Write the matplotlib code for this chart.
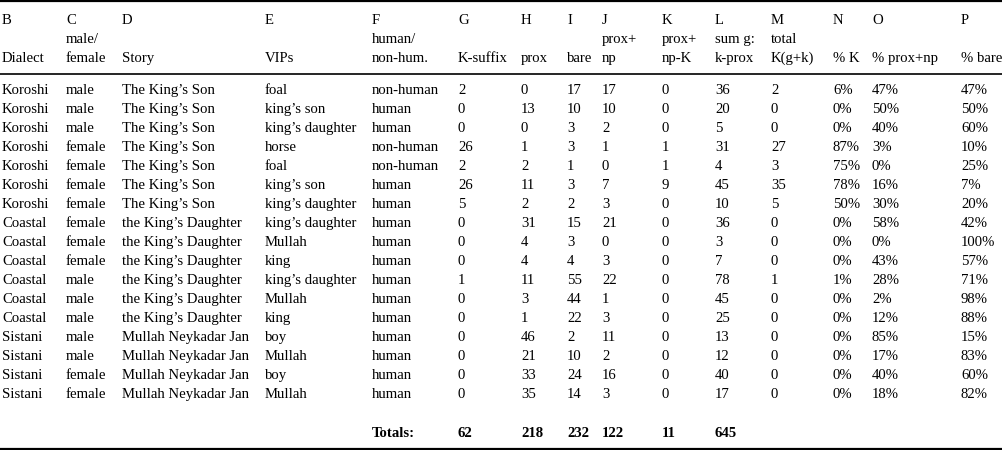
import matplotlib.pyplot as plt

# column data
dialect = ["Koroshi"] * 7 + ["Coastal"] * 6 + ["Sistani"] * 4
gender = ["male", "male", "male", "female", "female", "female", "female",
          "female", "female", "female", "male", "male", "male",
          "male", "male", "female", "female"]
story = ["The King’s Son"] * 7 + ["the King’s Daughter"] * 6 + ["Mullah Neykadar Jan"] * 4
vips = ["foal", "king’s son", "king’s daughter", "horse", "foal", "king’s son",
        "king’s daughter", "king’s daughter", "Mullah", "king", "king’s daughter",
        "Mullah", "king", "boy", "Mullah", "boy", "Mullah"]
human = ["non-human", "human", "human", "non-human", "non-human", "human", "human",
         "human", "human", "human", "human", "human", "human",
         "human", "human", "human", "human"]
k_suffix = [2, 0, 0, 26, 2, 26, 5, 0, 0, 0, 1, 0, 0, 0, 0, 0, 0]
prox = [0, 13, 0, 1, 2, 11, 2, 31, 4, 4, 11, 3, 1, 46, 21, 33, 35]
bare = [17, 10, 3, 3, 1, 3, 2, 15, 3, 4, 55, 44, 22, 2, 10, 24, 14]
prox_np = [17, 10, 2, 1, 0, 7, 3, 21, 0, 3, 22, 1, 3, 11, 2, 16, 3]
prox_np_k = [0, 0, 0, 1, 1, 9, 0, 0, 0, 0, 0, 0, 0, 0, 0, 0, 0]
sum_g = [36, 20, 5, 31, 4, 45, 10, 36, 3, 7, 78, 45, 25, 13, 12, 40, 17]
total_k = [2, 0, 0, 27, 3, 35, 5, 0, 0, 0, 1, 0, 0, 0, 0, 0, 0]
pct_k = ["6%", "0%", "0%", "87%", "75%", "78%", "50%", "0%", "0%", "0%", "1%",
         "0%", "0%", "0%", "0%", "0%", "0%"]
pct_prox_np = ["47%", "50%", "40%", "3%", "0%", "16%", "30%", "58%", "0%", "43%",
               "28%", "2%", "12%", "85%", "17%", "40%", "18%"]
pct_bare = ["47%", "50%", "60%", "10%", "25%", "7%", "20%", "42%", "100%", "57%",
            "71%", "98%", "88%", "15%", "83%", "60%", "82%"]

col_letters = list("BCDEFGHIJKLMNOP")
header_mid = ["", "male/", "", "", "human/", "", "", "", "prox+", "prox+",
              "sum g:", "total", "", "", ""]
header_bot = ["Dialect", "female", "Story", "VIPs", "non-hum.", "K-suffix", "prox",
              "bare", "np", "np-K", "k-prox", "K(g+k)", "% K", "% prox+np", "% bare"]
totals = [62, 218, 232, 122, 11, 645]

columns = [dialect, gender, story, vips, human, k_suffix, prox, bare, prox_np,
           prox_np_k, sum_g, total_k, pct_k, pct_prox_np, pct_bare]

# layout in pixels
col_x = [2, 66, 122, 265, 372, 458, 521, 567, 602, 662, 715, 771, 833, 872, 961]
W, H = 1002, 450
base = 4.2  # baseline offset below row centre (avoid half pixels)

plt.rcParams["font.family"] = ["Liberation Serif", "DejaVu Serif"]
fs = 10.6

fig = plt.figure(figsize=(W / 100, H / 100), dpi=100)
ax = fig.add_axes([0, 0, 1, 1])
ax.set_xlim(0, W)
ax.set_ylim(H, 0)
ax.axis("off")


def cell(x, y, s, **kw):
    ax.text(x, y + base, s, fontsize=fs, va="baseline", ha="left", **kw)


# rules
ax.axhline(1.2, color="black", lw=1.6)
ax.axhline(74, color="black", lw=1.2)
ax.axhline(448.8, color="black", lw=1.6)

# header
for x, a, b, c in zip(col_x, col_letters, header_mid, header_bot):
    cell(x, 20, a)
    if b:
        cell(x, 39, b)
    cell(x, 58, c)

# body
for i in range(len(dialect)):
    y = 90 + i * 19
    for x, col in zip(col_x, columns):
        cell(x, y, str(col[i]))

# totals row
cell(col_x[4], 433, "Totals:", fontweight="bold")
for x, t in zip(col_x[5:11], totals):
    cell(x, 433, str(t), fontweight="bold")

fig.savefig("out.png", dpi=100)
